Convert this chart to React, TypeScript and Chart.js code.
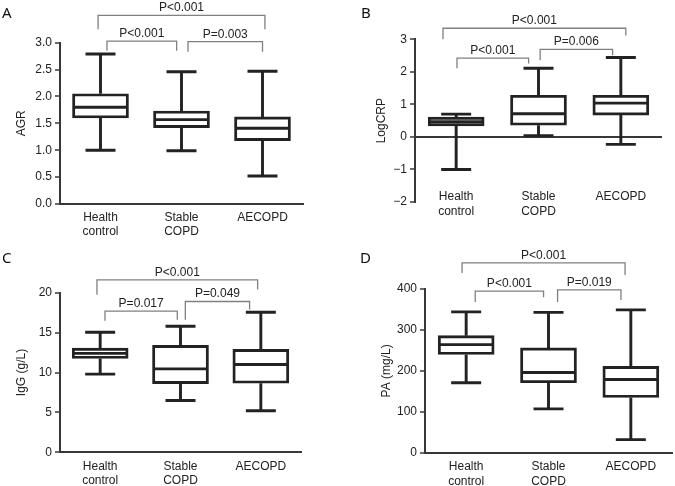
import React, { useEffect, useRef } from 'react';
import { Chart, registerables } from 'chart.js';

Chart.register(...registerables);

// ---------- data ----------
const categories: string[][] = [['Health', 'control'], ['Stable', 'COPD'], ['AECOPD']];
const categoryPositions = [1, 2, 3];

// A: AGR
const agrMin = [1.0, 0.99, 0.52];
const agrQ1 = [1.6, 1.42, 1.18];
const agrMedian = [1.8, 1.57, 1.41];
const agrQ3 = [2.05, 1.73, 1.62];
const agrMax = [2.79, 2.46, 2.47];
const agrTicks = [0, 0.5, 1, 1.5, 2, 2.5, 3];
const agrTickLabels = ['0.0', '0.5', '1.0', '1.5', '2.0', '2.5', '3.0'];
const agrBrackets = [
  { x1: 0.97, x2: 3.03, y: 3.51, y1: 3.25, y2: 3.25, label: 'P<0.001' },
  { x1: 1.08, x2: 1.94, y: 3.03, y1: 2.85, y2: 2.85, label: 'P<0.001' },
  { x1: 2.08, x2: 3.0, y: 3.02, y1: 2.83, y2: 2.83, label: 'P=0.003' },
];

// B: LogCRP
const crpMin = [-1.0, 0.04, -0.23];
const crpQ1 = [0.34, 0.36, 0.67];
const crpMedian = [0.47, 0.71, 1.04];
const crpQ3 = [0.61, 1.28, 1.28];
const crpMax = [0.7, 2.11, 2.44];
const crpTicks = [-2, -1, 0, 1, 2, 3];
const crpTickLabels = ['\u22122', '\u22121', '0', '1', '2', '3'];
const crpBrackets = [
  { x1: 0.84, x2: 3.06, y: 3.34, y1: 3.0, y2: 3.12, label: 'P<0.001' },
  { x1: 1.01, x2: 1.88, y: 2.42, y1: 2.11, y2: 2.26, label: 'P<0.001' },
  { x1: 2.02, x2: 2.9, y: 2.69, y1: 2.36, y2: 2.51, label: 'P=0.006' },
];

// C: IgG
const iggMin = [9.8, 6.5, 5.2];
const iggQ1 = [11.75, 8.6, 8.65];
const iggMedian = [12.4, 10.45, 11.0];
const iggQ3 = [13.05, 13.4, 12.9];
const iggMax = [15.05, 15.8, 17.55];
const iggTicks = [0, 5, 10, 15, 20];
const iggTickLabels = ['0', '5', '10', '15', '20'];
const iggBrackets = [
  { x1: 0.96, x2: 2.96, y: 21.6, y1: 19.75, y2: 20.4, label: 'P<0.001' },
  { x1: 1.06, x2: 1.96, y: 17.7, y1: 16.5, y2: 16.6, label: 'P=0.017' },
  { x1: 2.06, x2: 2.86, y: 18.9, y1: 16.6, y2: 17.9, label: 'P=0.049' },
];

// D: PA
const paMin = [171, 107, 32];
const paQ1 = [240, 171, 135];
const paMedian = [264, 196, 179];
const paQ3 = [286, 256, 211];
const paMax = [344, 343, 349];
const paTicks = [0, 100, 200, 300, 400];
const paTickLabels = ['0', '100', '200', '300', '400'];
const paBrackets = [
  { x1: 0.95, x2: 2.93, y: 464, y1: 439, y2: 434, label: 'P<0.001' },
  { x1: 1.11, x2: 1.94, y: 395, y1: 368, y2: 380, label: 'P<0.001' },
  { x1: 2.11, x2: 2.88, y: 398, y1: 368, y2: 373, label: 'P=0.019' },
];

// ---------- styling ----------
const FONT = '"Liberation Sans", Arial, Helvetica, sans-serif';
const INK = '#222222';
const AXIS = '#383838';
const BRACKET = '#808080';
const BOX_W = 56;
const CAP_HALF = 15;
const LINE_W = 2.9;

type Bracket = { x1: number; x2: number; y: number; y1: number; y2: number; label: string };

type PanelConfig = {
  letter: string;
  left: number;
  top: number;
  width: number;
  height: number;
  area: { left: number; right: number; top: number; bottom: number };
  letterX: number;
  letterY: number;
  yTitle: string;
  titleCenter: number;
  ticks: number[];
  tickLabels: string[];
  mins: number[];
  q1s: number[];
  medians: number[];
  q3s: number[];
  maxs: number[];
  brackets: Bracket[];
  zeroLine: boolean;
  xLabelPad: number;
};

const panels: PanelConfig[] = [
  {
    letter: 'A', left: 0, top: 0, width: 337, height: 243,
    area: { left: 60, right: 303, top: 42.7, bottom: 204 },
    letterX: 2, letterY: 18, yTitle: 'AGR', titleCenter: 22,
    ticks: agrTicks, tickLabels: agrTickLabels,
    mins: agrMin, q1s: agrQ1, medians: agrMedian, q3s: agrQ3, maxs: agrMax,
    brackets: agrBrackets, zeroLine: false, xLabelPad: 6,
  },
  {
    letter: 'B', left: 337, top: 0, width: 338, height: 243,
    area: { left: 78, right: 325, top: 39.3, bottom: 202 },
    letterX: 24, letterY: 18, yTitle: 'LogCRP', titleCenter: 44.7,
    ticks: crpTicks, tickLabels: crpTickLabels,
    mins: crpMin, q1s: crpQ1, medians: crpMedian, q3s: crpQ3, maxs: crpMax,
    brackets: crpBrackets, zeroLine: true, xLabelPad: -2,
  },
  {
    letter: 'C', left: 0, top: 243, width: 337, height: 243,
    area: { left: 60, right: 301, top: 49.7, bottom: 209.3 },
    letterX: 2, letterY: 20, yTitle: 'IgG (g/L)', titleCenter: 22,
    ticks: iggTicks, tickLabels: iggTickLabels,
    mins: iggMin, q1s: iggQ1, medians: iggMedian, q3s: iggQ3, maxs: iggMax,
    brackets: iggBrackets, zeroLine: false, xLabelPad: 7,
  },
  {
    letter: 'D', left: 337, top: 243, width: 338, height: 243,
    area: { left: 88, right: 335, top: 46, bottom: 209.7 },
    letterX: 23, letterY: 20, yTitle: 'PA (mg/L)', titleCenter: 49.7,
    ticks: paTicks, tickLabels: paTickLabels,
    mins: paMin, q1s: paQ1, medians: paMedian, q3s: paQ3, maxs: paMax,
    brackets: paBrackets, zeroLine: false, xLabelPad: 7,
  },
];

function Panel({ cfg }: { cfg: PanelConfig }) {
  const ref = useRef<HTMLCanvasElement | null>(null);

  useEffect(() => {
    if (!ref.current) return;
    const c = cfg;
    const yMin = c.ticks[0];
    const yMax = c.ticks[c.ticks.length - 1];

    const boxPlugin = {
      id: 'boxExtras' + c.letter,
      beforeDatasetsDraw(chart: any) {
        const { ctx, scales } = chart;
        const xs = scales.x;
        const ys = scales.y;
        ctx.save();
        ctx.strokeStyle = INK;
        ctx.lineWidth = LINE_W;
        ctx.lineCap = 'butt';
        categoryPositions.forEach((pos, i) => {
          const px = xs.getPixelForValue(pos);
          const pMin = ys.getPixelForValue(c.mins[i]);
          const pMax = ys.getPixelForValue(c.maxs[i]);
          const pQ1 = ys.getPixelForValue(c.q1s[i]);
          const pQ3 = ys.getPixelForValue(c.q3s[i]);
          ctx.beginPath();
          ctx.moveTo(px, pQ3);
          ctx.lineTo(px, pMax);
          ctx.moveTo(px, pQ1);
          ctx.lineTo(px, pMin);
          ctx.moveTo(px - CAP_HALF, pMax);
          ctx.lineTo(px + CAP_HALF, pMax);
          ctx.moveTo(px - CAP_HALF, pMin);
          ctx.lineTo(px + CAP_HALF, pMin);
          ctx.stroke();
        });
        ctx.restore();
      },
      afterDatasetsDraw(chart: any) {
        const { ctx, scales } = chart;
        const xs = scales.x;
        const ys = scales.y;
        ctx.save();
        ctx.strokeStyle = INK;
        ctx.lineWidth = LINE_W;
        categoryPositions.forEach((pos, i) => {
          const px = xs.getPixelForValue(pos);
          const pm = ys.getPixelForValue(c.medians[i]);
          ctx.beginPath();
          ctx.moveTo(px - BOX_W / 2 + 1, pm);
          ctx.lineTo(px + BOX_W / 2 - 1, pm);
          ctx.stroke();
        });
        ctx.restore();
      },
      afterDraw(chart: any) {
        const { ctx, scales } = chart;
        const xs = scales.x;
        const ys = scales.y;
        ctx.save();
        ctx.strokeStyle = BRACKET;
        ctx.lineWidth = 1.3;
        ctx.fillStyle = INK;
        ctx.font = '12px ' + FONT;
        ctx.textAlign = 'center';
        ctx.textBaseline = 'alphabetic';
        c.brackets.forEach((b) => {
          const px1 = xs.getPixelForValue(b.x1);
          const px2 = xs.getPixelForValue(b.x2);
          const py = ys.getPixelForValue(b.y);
          const py1 = ys.getPixelForValue(b.y1);
          const py2 = ys.getPixelForValue(b.y2);
          ctx.beginPath();
          ctx.moveTo(px1, py1);
          ctx.lineTo(px1, py);
          ctx.lineTo(px2, py);
          ctx.lineTo(px2, py2);
          ctx.stroke();
          ctx.fillText(b.label, (px1 + px2) / 2, py - 4);
        });
        ctx.fillStyle = '#111';
        ctx.font = '15px "Noto Sans", "Open Sans", sans-serif';
        ctx.textAlign = 'left';
        ctx.fillText(c.letter, c.letterX, c.letterY);
        ctx.restore();
      },
    };

    const chart = new Chart(ref.current, {
      type: 'bar',
      data: {
        datasets: [
          {
            data: categoryPositions.map((pos, i) => ({ x: pos, y: [c.q1s[i], c.q3s[i]] })) as any,
            backgroundColor: '#ffffff',
            borderColor: INK,
            borderWidth: LINE_W,
            borderSkipped: false,
            barThickness: BOX_W,
            grouped: false,
          } as any,
        ],
      },
      options: {
        responsive: false,
        animation: false,
        events: [],
        layout: {
          padding: {
            left: 0,
            top: c.area.top,
            right: c.width - c.area.right,
            bottom: 0,
          },
        },
        plugins: {
          legend: { display: false },
          tooltip: { enabled: false },
          title: { display: false },
        },
        scales: {
          x: {
            type: 'linear',
            offset: false,
            min: 0.5,
            max: 3.5,
            afterBuildTicks: (scale: any) => {
              scale.ticks = categoryPositions.map((v) => ({ value: v }));
            },
            afterFit: (scale: any) => {
              scale.height = c.height - c.area.bottom;
            },
            ticks: {
              autoSkip: false,
              maxRotation: 0,
              minRotation: 0,
              mirror: c.zeroLine,
              padding: c.xLabelPad,
              color: INK,
              font: { family: FONT, size: 12 },
              callback: (v: any) => {
                const idx = categoryPositions.indexOf(Number(v));
                return idx >= 0 ? categories[idx] : '';
              },
            },
            grid: { display: true, drawOnChartArea: false, drawTicks: false, color: AXIS },
            border: { display: !c.zeroLine, color: AXIS, width: 2 },
          },
          y: {
            type: 'linear',
            min: yMin,
            max: yMax,
            afterBuildTicks: (scale: any) => {
              scale.ticks = c.ticks.map((v) => ({ value: v }));
            },
            afterFit: (scale: any) => {
              scale.width = c.area.left;
            },
            ticks: {
              autoSkip: false,
              padding: 3,
              color: INK,
              font: { family: FONT, size: 12 },
              callback: (v: any) => {
                const idx = c.ticks.indexOf(Number(v));
                return idx >= 0 ? c.tickLabels[idx] : '';
              },
            },
            grid: {
              display: true,
              drawOnChartArea: c.zeroLine,
              drawTicks: true,
              tickLength: 5,
              tickWidth: 1.5,
              tickColor: AXIS,
              lineWidth: 2,
              color: (ctx: any) =>
                c.zeroLine && ctx.tick && ctx.tick.value === 0 ? AXIS : 'rgba(0,0,0,0)',
            },
            border: { display: true, color: AXIS, width: 2 },
            title: {
              display: true,
              text: c.yTitle,
              color: INK,
              font: { family: FONT, size: 12 },
              padding: { top: c.titleCenter - 7.2, bottom: 0 },
            },
          },
        },
      } as any,
      plugins: [boxPlugin],
    });

    return () => {
      chart.destroy();
    };
  }, [cfg]);

  return (
    <canvas
      ref={ref}
      width={cfg.width}
      height={cfg.height}
      style={{
        position: 'absolute',
        left: cfg.left,
        top: cfg.top,
        width: cfg.width,
        height: cfg.height,
        display: 'block',
      }}
    />
  );
}

export default function App() {
  return (
    <div
      style={{
        position: 'absolute',
        left: 0,
        top: 0,
        width: 675,
        height: 486,
        background: '#ffffff',
        overflow: 'hidden',
      }}
    >
      {panels.map((p) => (
        <Panel key={p.letter} cfg={p} />
      ))}
    </div>
  );
}
